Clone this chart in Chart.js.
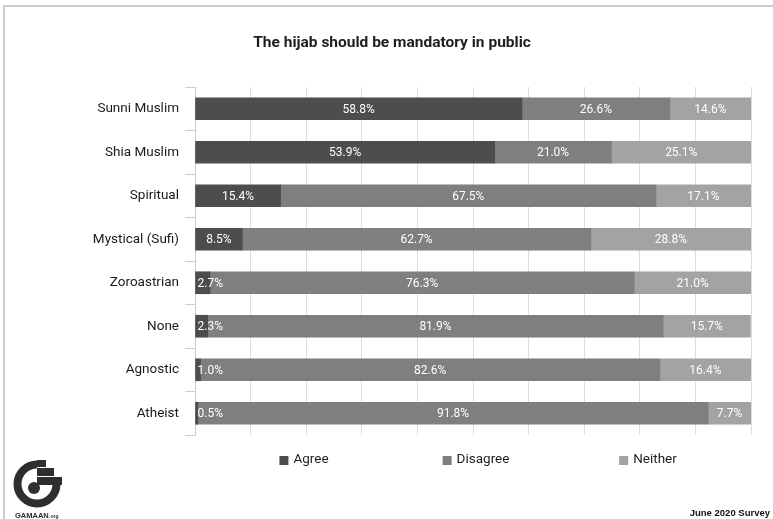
<!DOCTYPE html>
<html>
<head>
    <title>The hijab should be mandatory in public</title>
    <script src="https://cdn.jsdelivr.net/npm/chart.js"></script>
    <style>
        body { margin: 0; background: #fff; }
        #wrap { width: 773px; height: 519px; }
    </style>
</head>
<body>
    <div id="wrap">
        <canvas id="myChart" width="773" height="519"></canvas>
    </div>

    <script>
      // chart data
      const groups = ["Sunni Muslim", "Shia Muslim", "Spiritual", "Mystical (Sufi)", "Zoroastrian", "None", "Agnostic", "Atheist"];
      const agree = [58.8, 53.9, 15.4, 8.5, 2.7, 2.3, 1.0, 0.5];
      const disagree = [26.6, 21.0, 67.5, 62.7, 76.3, 81.9, 82.6, 91.8];
      const neither = [14.6, 25.1, 17.1, 28.8, 21.0, 15.7, 16.4, 7.7];
      const seriesNames = ["Agree", "Disagree", "Neither"];
      const seriesColors = ["#4d4d4f", "#7f7f82", "#a3a3a5"];

      // white background + light frame
      const frame = {
        id: "frame",
        beforeDraw(chart) {
          const c = chart.ctx;
          c.save();
          c.fillStyle = "#fff";
          c.fillRect(0, 0, chart.width, chart.height);
          c.fillStyle = "#cdcdcd";
          c.fillRect(3, 5, chart.width - 3, 2);
          c.fillRect(3, 5, 2, chart.height - 5);
          c.restore();
        }
      };

      // percent labels inside the bars
      const barLabels = {
        id: "barLabels",
        afterDatasetsDraw(chart) {
          const c = chart.ctx;
          c.save();
          c.font = "12px Roboto";
          c.fillStyle = "#fff";
          c.textBaseline = "middle";
          c.textAlign = "center";
          chart.data.datasets.forEach((ds, i) => {
            chart.getDatasetMeta(i).data.forEach((bar, j) => {
              const txt = ds.data[j].toFixed(1) + "%";
              const w = c.measureText(txt).width;
              let cx = (bar.x + bar.base) / 2;
              if (cx - w / 2 < bar.base + 2) cx = bar.base + 2 + w / 2;
              c.fillText(txt, cx, bar.y + 1);
            });
          });
          c.restore();
        }
      };

      // spread-out legend, logo and footer
      const extras = {
        id: "extras",
        afterDraw(chart) {
          const c = chart.ctx;
          const area = chart.chartArea;
          c.save();
          c.font = "13.5px Roboto";
          c.textBaseline = "middle";
          const mid = (area.left + area.right) / 2 + 3;
          const step = 172;
          chart.data.datasets.forEach((ds, i) => {
            const w = 9 + 5 + c.measureText(ds.label).width;
            const x0 = mid + (i - 1) * step - w / 2;
            c.fillStyle = ds.backgroundColor;
            c.fillRect(x0, 456, 9, 9);
            c.fillStyle = "#1e1e1e";
            c.fillText(ds.label, x0 + 14, 460);
          });

          // footer
          c.font = "bold 9.5px 'Liberation Sans'";
          c.textAlign = "right";
          c.fillStyle = "#111";
          c.fillText("June 2020 Survey", 770, 513);

          // GAMAAN logo (rough)
          c.fillStyle = "#2e2e2e";
          c.strokeStyle = "#2e2e2e";
          c.lineWidth = 8;
          c.beginPath();
          c.arc(37, 484, 19.5, 0, Math.PI * 1.5);
          c.stroke();
          c.fillRect(37, 460, 9, 7);
          c.fillRect(37, 468, 17, 8);
          c.fillRect(37, 477, 25, 8);
          c.beginPath();
          c.arc(34, 488, 6, 0, Math.PI * 2);
          c.fill();
          c.textAlign = "left";
          c.font = "bold 7.5px 'Liberation Sans'";
          c.fillText("GAMAAN", 15, 516);
          c.font = "bold 5px 'Liberation Sans'";
          c.fillText(".org", 49, 517);
          c.restore();
        }
      };

      const ctx = document.getElementById("myChart");
      const mychart = new Chart(ctx, {
        type: "bar",
        data: {
          labels: groups,
          datasets: [
            { label: seriesNames[0], data: agree, backgroundColor: seriesColors[0] },
            { label: seriesNames[1], data: disagree, backgroundColor: seriesColors[1] },
            { label: seriesNames[2], data: neither, backgroundColor: seriesColors[2] },
          ],
        },
        options: {
          indexAxis: "y",
          responsive: false,
          animation: false,
          barThickness: 22,
          layout: { padding: { left: 33, right: 22, top: 0, bottom: 84 } },
          plugins: {
            legend: { display: false },
            tooltip: { enabled: false },
            title: {
              display: true,
              text: "The hijab should be mandatory in public",
              color: "#1e1e1e",
              font: { family: "Roboto", size: 15.5, weight: "bold" },
              padding: { top: 34, bottom: 34.4 },
            },
          },
          scales: {
            x: {
              stacked: true,
              min: 0,
              max: 100,
              ticks: { display: false, stepSize: 10 },
              grid: { color: "#dddddd", drawTicks: false },
              border: { display: false },
            },
            y: {
              stacked: true,
              afterFit(scale) { scale.width = 162; },
              ticks: { color: "#1a1a1a", padding: 6, font: { family: "Roboto", size: 13.5 } },
              grid: { drawOnChartArea: false, tickLength: 10, color: "#cccccc" },
              border: { color: "#cccccc" },
            },
          },
        },
        plugins: [frame, barLabels, extras],
      });
    </script>
</body>
</html>
